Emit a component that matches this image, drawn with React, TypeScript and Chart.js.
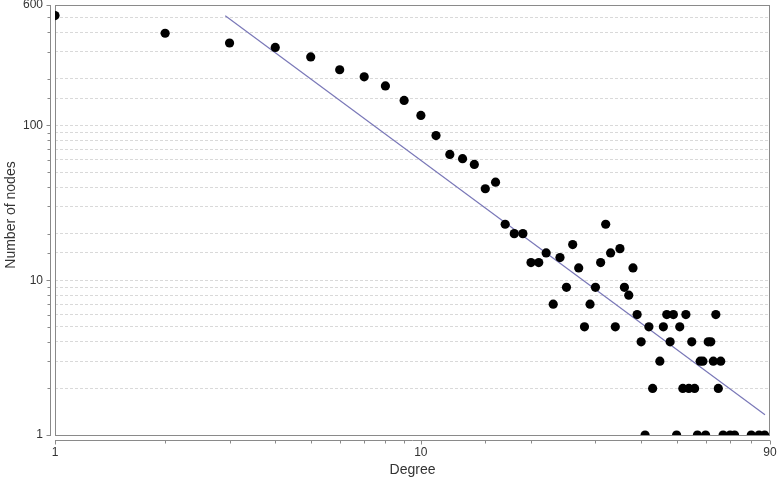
import React, { useEffect, useRef } from 'react';
import { Chart, registerables } from 'chart.js';

Chart.register(...registerables);

const degrees = [
  1, 2, 3, 4, 5, 6, 7, 8, 9, 10, 11, 12, 13, 14, 15, 16, 17, 18, 19, 20,
  21, 22, 23, 24, 25, 26, 27, 28, 29, 30, 31, 32, 33, 34, 35, 36, 37, 38, 39, 40,
  41, 42, 43, 45, 46, 47, 48, 49, 50, 51, 52, 53, 54, 55, 56, 57, 58, 59, 60,
  61, 62, 63, 64, 65, 66, 67, 70, 72, 80, 84, 87,
];
const nodeCounts = [
  513, 394, 341, 319, 277, 229, 206, 180, 145, 116, 86, 65, 61, 56, 39, 43, 23, 20, 20, 13,
  13, 15, 7, 14, 9, 17, 12, 5, 7, 9, 13, 23, 15, 5, 16, 9, 8, 12, 6, 4,
  1, 5, 2, 3, 5, 6, 4, 6, 1, 5, 2, 6, 2, 4, 2, 1, 3, 3, 1,
  4, 4, 3, 6, 2, 3, 1, 1, 1, 1, 1, 1,
];
const fitDegrees = [2.92, 87.2];
const fitCounts = [512, 1.35];
const xTickLabels = [1, 10, 90];
const yTickLabels = [1, 10, 100, 600];
const xTitle = 'Degree';
const yTitle = 'Number of nodes';

const FONT = '"Liberation Sans", Arial, sans-serif';

const axesPlugin = {
  id: 'offsetAxes',
  beforeDatasetsDraw(chart: any) {
    const { ctx, chartArea: a } = chart;
    ctx.save();
    ctx.strokeStyle = '#8a8a8a';
    ctx.lineWidth = 1;
    ctx.strokeRect(Math.round(a.left) + 0.5, Math.round(a.top) + 0.5, Math.round(a.right - a.left) - 1, Math.round(a.bottom - a.top));
    ctx.restore();
  },
  afterDraw(chart: any) {
    const { ctx, chartArea: a, scales } = chart;
    ctx.save();
    ctx.strokeStyle = '#8a8a8a';
    ctx.lineWidth = 1;
    ctx.beginPath();
    const ax = Math.round(a.left - 5) + 0.5;
    ctx.moveTo(ax, a.top);
    ctx.lineTo(ax, a.bottom + 1);
    scales.y.ticks.forEach((t: any) => {
      const py = Math.round(scales.y.getPixelForValue(t.value)) + 0.5;
      const len = yTickLabels.includes(t.value) ? 4 : 3;
      ctx.moveTo(ax - len, py);
      ctx.lineTo(ax, py);
    });
    const ay = Math.round(a.bottom + 5) + 0.5;
    ctx.moveTo(a.left, ay);
    ctx.lineTo(a.right, ay);
    scales.x.ticks.forEach((t: any) => {
      const px = Math.round(scales.x.getPixelForValue(t.value)) + 0.5;
      const len = xTickLabels.includes(t.value) ? 4 : 3;
      ctx.moveTo(px, ay);
      ctx.lineTo(px, ay + len);
    });
    ctx.stroke();
    // y-axis title (slightly above the plot centre, as in the reference)
    ctx.fillStyle = '#333333';
    ctx.font = '14px ' + FONT;
    ctx.textAlign = 'center';
    ctx.textBaseline = 'middle';
    ctx.translate(11, (a.top + a.bottom) / 2 - 5);
    ctx.rotate(-Math.PI / 2);
    ctx.fillText(yTitle, 0, 0);
    ctx.restore();
  },
};

export default function App() {
  const ref = useRef<HTMLCanvasElement>(null);
  useEffect(() => {
    document.body.style.margin = '0';
    const points = degrees.map((d, i) => ({ x: d, y: nodeCounts[i] }));
    const fit = fitDegrees.map((d, i) => ({ x: d, y: fitCounts[i] }));
    const chart = new Chart(ref.current as HTMLCanvasElement, {
      type: 'scatter',
      data: {
        datasets: [
          {
            label: 'Nodes',
            data: points,
            backgroundColor: '#000000',
            borderColor: '#000000',
            pointRadius: 4.6,
            pointHoverRadius: 4.6,
            borderWidth: 0,
            clip: 0,
            order: 1,
          },
          {
            label: 'Fit',
            type: 'line',
            data: fit,
            borderColor: '#7a78b8',
            borderWidth: 1.2,
            pointRadius: 0,
            fill: false,
            order: 2,
          } as any,
        ],
      },
      options: {
        animation: false,
        responsive: false,
        events: [],
        layout: { padding: { top: 5, right: 8, left: 0, bottom: 0 } },
        plugins: { legend: { display: false }, tooltip: { enabled: false } },
        scales: {
          x: {
            type: 'logarithmic',
            min: 1,
            max: 90,
            grid: { display: false, drawTicks: false },
            border: { display: false },
            ticks: {
              autoSkip: false,
              maxRotation: 0,
              padding: 10,
              color: '#333333',
              font: { family: FONT, size: 12 },
              callback: (v: any) => (xTickLabels.includes(Number(v)) ? String(v) : ''),
            },
            title: {
              display: true,
              text: xTitle,
              color: '#333333',
              font: { family: FONT, size: 14 },
              padding: { top: 0, bottom: 3 },
            },
            afterFit: (s: any) => {
              s.height = 47;
              s.paddingLeft = 0;
              s.paddingRight = 0;
            },
          },
          y: {
            type: 'logarithmic',
            min: 1,
            max: 600,
            grid: { display: true, drawTicks: false, color: '#d9d9d9', lineWidth: 1 },
            border: { display: false, dash: [3, 2] },
            ticks: {
              autoSkip: false,
              padding: 12,
              color: '#333333',
              font: { family: FONT, size: 12 },
              callback: (v: any) => (yTickLabels.includes(Number(v)) ? String(v) : ''),
            },
            title: { display: false },
            afterFit: (s: any) => {
              s.width = 55;
              s.paddingTop = 0;
              s.paddingBottom = 0;
            },
          },
        },
      },
      plugins: [axesPlugin],
    });
    return () => chart.destroy();
  }, []);
  return (
    <div style={{ width: 778, height: 482, background: '#fff' }}>
      <canvas ref={ref} width={778} height={482} style={{ display: 'block' }} />
    </div>
  );
}
